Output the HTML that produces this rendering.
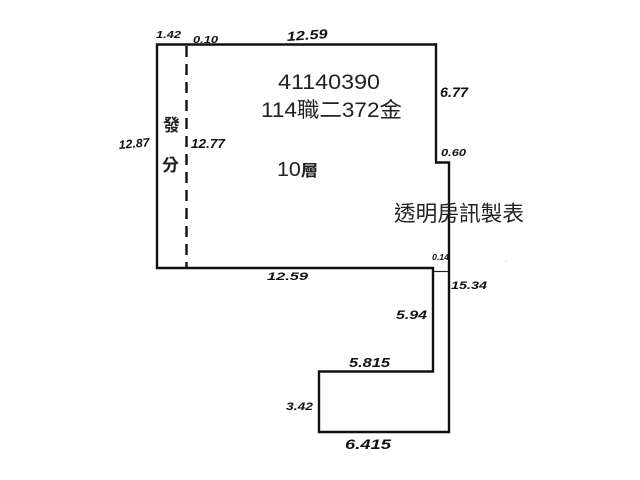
<!DOCTYPE html>
<html>
<head>
<meta charset="utf-8">
<style>
html,body{margin:0;padding:0;background:#fff;width:640px;height:480px;overflow:hidden}
svg{display:block}
text{font-family:"Liberation Sans","Noto Sans CJK TC",sans-serif;fill:#222}
.h{font-style:italic;font-weight:bold;fill:#111}
</style>
</head>
<body>
<svg width="640" height="480" viewBox="0 0 640 480" xmlns="http://www.w3.org/2000/svg">
<rect width="640" height="480" fill="#fff"/>
<path d="M157 44.5H436V162.5H449V432H319V371.5H433V268H157Z" fill="none" stroke="#111" stroke-width="2.4"/>
<path d="M186.5 46V268" fill="none" stroke="#111" stroke-width="2.4" stroke-dasharray="11 7"/>
<path d="M434 271.5H448" stroke="#222" stroke-width="1.2" fill="none"/>
<circle cx="506" cy="261" r="1" fill="#ddd"/>

<text x="156" y="38" font-size="10" class="h" textLength="25" lengthAdjust="spacingAndGlyphs">1.42</text>
<text x="193" y="43" font-size="10" class="h" textLength="25" lengthAdjust="spacingAndGlyphs">0.10</text>
<text x="287" y="41" font-size="13" class="h" textLength="41" lengthAdjust="spacingAndGlyphs" transform="rotate(-4 287 41)">12.59</text>
<text x="119" y="149" font-size="12" class="h" textLength="31" lengthAdjust="spacingAndGlyphs" transform="rotate(-5 119 149)">12.87</text>
<text x="191" y="148" font-size="13" class="h" textLength="34" lengthAdjust="spacingAndGlyphs">12.77</text>
<text x="440" y="97" font-size="14" class="h" textLength="28" lengthAdjust="spacingAndGlyphs">6.77</text>
<text x="441" y="156" font-size="10" class="h" textLength="25" lengthAdjust="spacingAndGlyphs">0.60</text>
<text x="432" y="260" font-size="8" class="h" textLength="17" lengthAdjust="spacingAndGlyphs">0.14</text>
<text x="267" y="280" font-size="11" class="h" textLength="41" lengthAdjust="spacingAndGlyphs">12.59</text>
<text x="451" y="289" font-size="11" class="h" textLength="36" lengthAdjust="spacingAndGlyphs">15.34</text>
<text x="396" y="319" font-size="12" class="h" textLength="31" lengthAdjust="spacingAndGlyphs">5.94</text>
<text x="349" y="367" font-size="13" class="h" textLength="41" lengthAdjust="spacingAndGlyphs">5.815</text>
<text x="286" y="410" font-size="11" class="h" textLength="27" lengthAdjust="spacingAndGlyphs">3.42</text>
<text x="345" y="449" font-size="14" class="h" textLength="46" lengthAdjust="spacingAndGlyphs">6.415</text>

<text x="163" y="131" font-size="17" font-weight="bold" fill="#111">發</text>
<text x="162" y="171" font-size="17" font-weight="bold" fill="#111">分</text>

<text x="278" y="89" font-size="21" textLength="102" lengthAdjust="spacingAndGlyphs">41140390</text>
<text x="261" y="117" font-size="21" textLength="141" lengthAdjust="spacingAndGlyphs">114職二372金</text>
<text x="277" y="176" font-size="20" fill="#111" textLength="41" lengthAdjust="spacingAndGlyphs">10<tspan font-size="16" font-weight="bold">層</tspan></text>
<text x="394" y="221" font-size="21.5" textLength="130" lengthAdjust="spacingAndGlyphs">透明房訊製表</text>
</svg>
</body>
</html>
